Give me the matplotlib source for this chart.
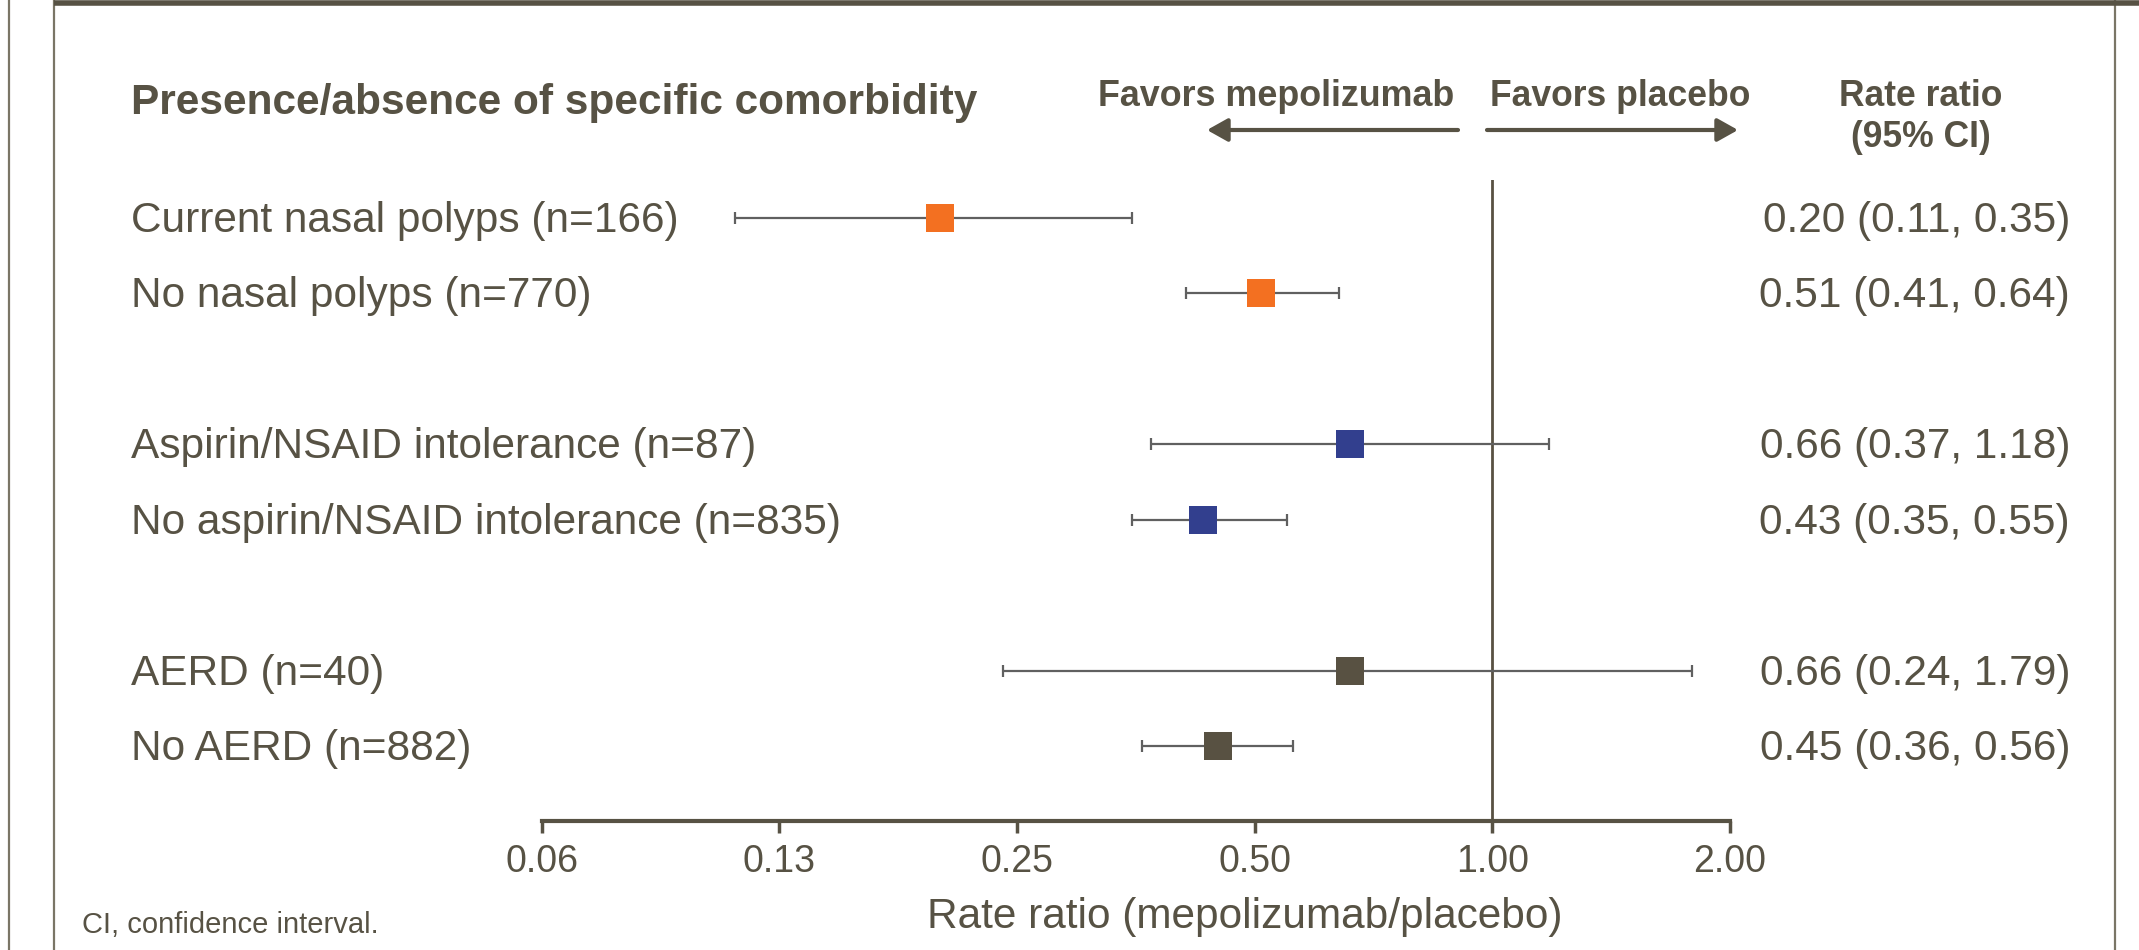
import numpy as np
import matplotlib.pyplot as plt
import matplotlib.transforms as mtransforms
from matplotlib.lines import Line2D
from matplotlib.ticker import NullLocator

# data
labels = ['Current nasal polyps (n=166)', 'No nasal polyps (n=770)',
          'Aspirin/NSAID intolerance (n=87)', 'No aspirin/NSAID intolerance (n=835)',
          'AERD (n=40)', 'No AERD (n=882)']
rate_ratio = [0.20, 0.51, 0.66, 0.43, 0.66, 0.45]
ci_low = [0.11, 0.41, 0.37, 0.35, 0.24, 0.36]
ci_high = [0.35, 0.64, 1.18, 0.55, 1.79, 0.56]
group = [0, 0, 1, 1, 2, 2]
tick_values = [0.0625, 0.125, 0.25, 0.5, 1.0, 2.0]
tick_labels = ['0.06', '0.13', '0.25', '0.50', '1.00', '2.00']

group_colors = ['#f37021', '#323f8e', '#585142']
TEXT = '#575244'
W, H = 2139, 950


def fx(px):
    return px / W


def fy(py):
    return 1 - py / H


plt.rcParams['font.family'] = ['Liberation Sans', 'DejaVu Sans']

fig = plt.figure(figsize=(W / 100, H / 100), dpi=100)
ax = fig.add_axes([fx(541.6), fy(821), fx(1729.8) - fx(541.6), fy(180) - fy(821)])

rows = np.arange(len(labels)) + np.array(group)
rr = np.array(rate_ratio)
lo = np.array(ci_low)
hi = np.array(ci_high)

ax.axvline(1.0, color='#585142', lw=2, zorder=1)
ax.errorbar(rr, rows, xerr=[rr - lo, hi - rr], fmt='none', ecolor='#606060',
            elinewidth=1.6, capsize=4.3, capthick=1.6, zorder=2)
for x, y, g in zip(rr, rows, group):
    ax.plot(x, y, 's', ms=19.5, color=group_colors[g], mew=0, zorder=3)

ax.set_xscale('log', base=2)
ax.set_xlim(0.0625, 2)
ax.set_ylim(7.99, -0.5)
ax.set_xticks(tick_values)
ax.set_xticklabels(tick_labels)
ax.xaxis.set_minor_locator(NullLocator())
ax.set_yticks([])
for s in ['top', 'left', 'right']:
    ax.spines[s].set_visible(False)
ax.spines['bottom'].set_linewidth(3)
ax.spines['bottom'].set_color(TEXT)
ax.tick_params(axis='x', direction='out', length=8.6, width=2.5, colors=TEXT,
               labelsize=27, pad=8)
ax.patch.set_alpha(0)

# row labels and values
trans = mtransforms.blended_transform_factory(fig.transFigure, ax.transData)
off = mtransforms.ScaledTranslation(0, -3 / 100, fig.dpi_scale_trans)
for lab, y, r, l, h in zip(labels, rows, rr, lo, hi):
    ax.text(fx(131), y, lab, transform=trans + off, ha='left', va='center',
            fontsize=30.5, color=TEXT)
    ax.text(fx(2070), y, f'{r:.2f} ({l:.2f}, {h:.2f})', transform=trans + off,
            ha='right', va='center', fontsize=30.5, color=TEXT)

# headers
fig.text(fx(131), fy(114), 'Presence/absence of specific comorbidity',
         fontsize=30.5, fontweight='bold', color=TEXT, va='baseline')
fig.text(fx(1276), fy(106), 'Favors mepolizumab', fontsize=25.8,
         fontweight='bold', color=TEXT, ha='center', va='baseline')
fig.text(fx(1620), fy(106), 'Favors placebo', fontsize=25.6,
         fontweight='bold', color=TEXT, ha='center', va='baseline')
fig.text(fx(1921), fy(106), 'Rate ratio', fontsize=25.6,
         fontweight='bold', color=TEXT, ha='center', va='baseline')
fig.text(fx(1921), fy(147), '(95% CI)', fontsize=25.6,
         fontweight='bold', color=TEXT, ha='center', va='baseline')

arrow = dict(arrowstyle='-|>,head_length=0.5,head_width=0.28', lw=3,
             color=TEXT, mutation_scale=25, shrinkA=0, shrinkB=0)
ax.annotate('', xy=(fx(1207), fy(130)), xytext=(fx(1458), fy(130)),
            xycoords='figure fraction', textcoords='figure fraction',
            arrowprops=arrow)
ax.annotate('', xy=(fx(1738), fy(130)), xytext=(fx(1487), fy(130)),
            xycoords='figure fraction', textcoords='figure fraction',
            arrowprops=arrow)

fig.text(fx(1245), fy(928), 'Rate ratio (mepolizumab/placebo)', fontsize=30.5,
         color=TEXT, ha='center', va='baseline')
fig.text(fx(82), fy(933), 'CI, confidence interval.', fontsize=21,
         color=TEXT, va='baseline')

# slide frame
for xp in [9, 54, 2115]:
    fig.add_artist(Line2D([fx(xp), fx(xp)], [0, 1], transform=fig.transFigure,
                          color='#7a7566', lw=1.6))
fig.add_artist(Line2D([fx(54), 1], [fy(2.5), fy(2.5)], transform=fig.transFigure,
                      color=TEXT, lw=4, solid_capstyle='butt'))

fig.savefig('out.png', dpi=100)
